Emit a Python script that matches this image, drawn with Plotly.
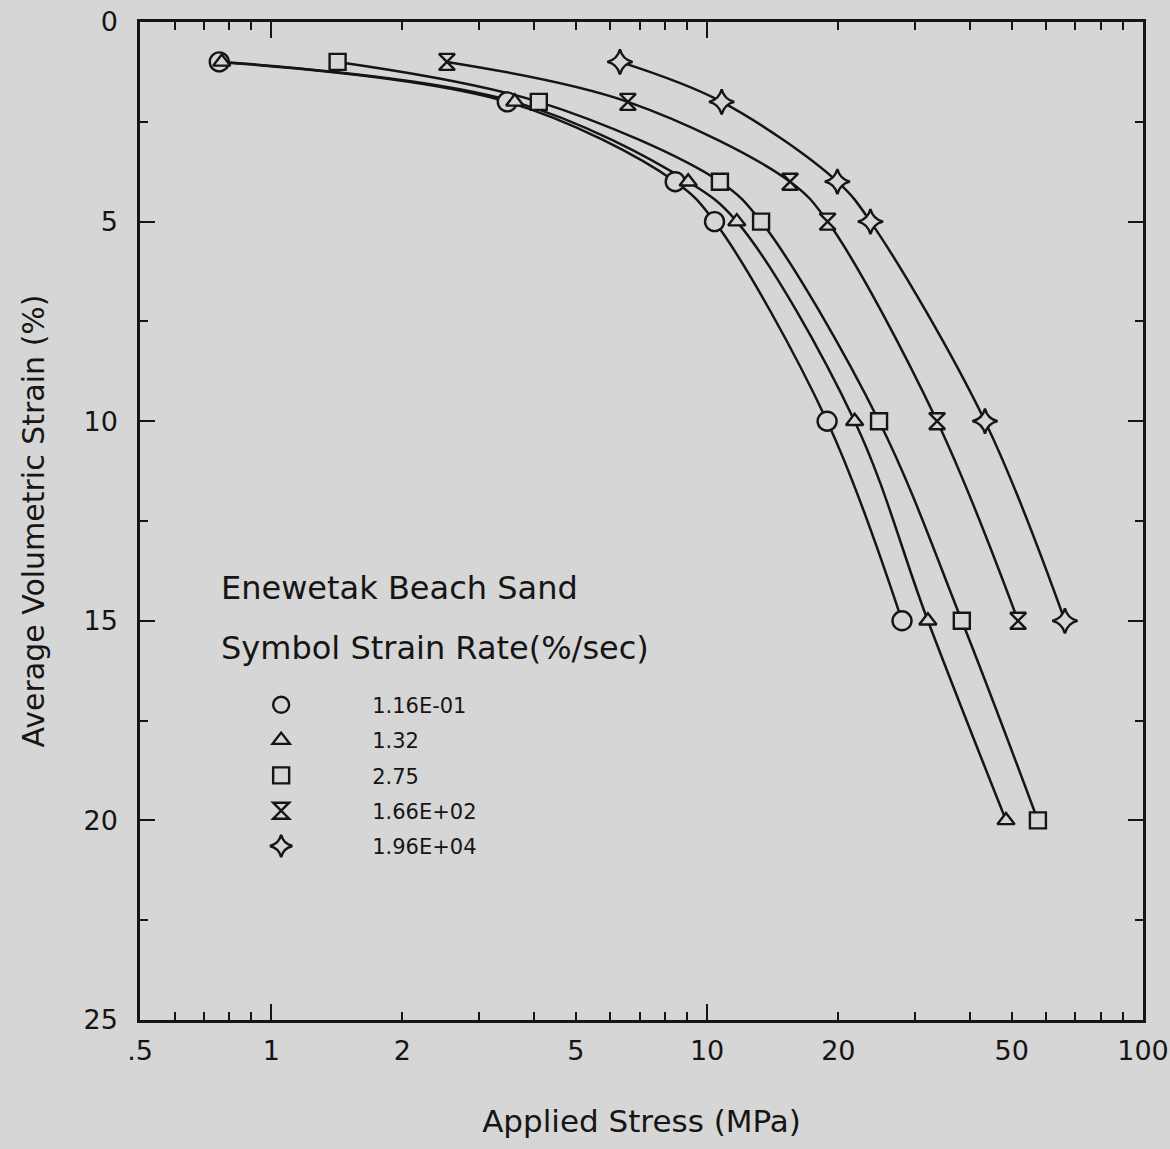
import plotly.graph_objects as go

# ---- data ----
series_names = ["1.16E-01", "1.32", "2.75", "1.66E+02", "1.96E+04"]
stress_circle = [0.76, 3.48, 8.45, 10.4, 18.85, 28.0]
strain_circle = [1, 2, 4, 5, 10, 15]
stress_triangle = [0.77, 3.62, 9.05, 11.7, 21.8, 32.1, 48.5]
strain_triangle = [1, 2, 4, 5, 10, 15, 20]
stress_square = [1.42, 4.11, 10.7, 13.3, 24.8, 38.4, 57.4]
strain_square = [1, 2, 4, 5, 10, 15, 20]
stress_hourglass = [2.53, 6.58, 15.5, 18.9, 33.7, 51.7]
strain_hourglass = [1, 2, 4, 5, 10, 15]
stress_star = [6.31, 10.8, 19.9, 23.7, 43.4, 66.2]
strain_star = [1, 2, 4, 5, 10, 15]

x_tick_vals = [0.5, 0.6, 0.7, 0.8, 0.9, 1, 2, 3, 4, 5, 6, 7, 8, 9, 10,
               20, 30, 40, 50, 60, 70, 80, 90, 100]
x_label_map = {0.5: ".5", 1: "1", 2: "2", 5: "5", 10: "10", 20: "20", 50: "50", 100: "100"}
x_major_vals = [1, 10, 100]
y_tick_vals = [0, 5, 10, 15, 20, 25]

BG = "#d6d6d6"
INK = "#151515"
FONT = "DejaVu Sans"

series = [
    (stress_circle, strain_circle, "circle", 19),
    (stress_triangle, strain_triangle, "triangle-up", 15),
    (stress_square, strain_square, "square", 16),
    (stress_hourglass, strain_hourglass, "hourglass", 16),
    (stress_star, strain_star, "star-diamond", 18),
]

fig = go.Figure()

for xs, ys, sym, sz in series:
    fig.add_trace(go.Scatter(
        x=xs, y=ys, mode="lines", showlegend=False, hoverinfo="skip",
        line=dict(color=INK, width=2.5, shape="spline", smoothing=1.0),
    ))

for (xs, ys, sym, sz), name in zip(series, series_names):
    fig.add_trace(go.Scatter(
        x=xs, y=ys, mode="markers", name=name, legendgroup=name,
        marker=dict(symbol=sym, size=sz, color=BG, line=dict(color=INK, width=2.4)),
    ))

# overlay axis for the long major ticks at decades
fig.add_trace(go.Scatter(x=[1], y=[None], xaxis="x2", showlegend=False, hoverinfo="skip"))

fig.update_layout(
    width=1170, height=1149,
    paper_bgcolor=BG, plot_bgcolor=BG,
    margin=dict(l=140, r=27, t=22, b=129),
    font=dict(family=FONT, color=INK, size=26),
    xaxis=dict(
        type="log", range=[-0.30103, 2.0], automargin=False,
        tickmode="array", tickvals=x_tick_vals,
        ticktext=[x_label_map.get(v, "") for v in x_tick_vals],
        ticks="inside", ticklen=8, tickwidth=2, tickcolor=INK,
        showline=True, linewidth=2.5, linecolor=INK, mirror="ticks",
        showgrid=False, zeroline=False,
        tickfont=dict(size=27), ticklabelstandoff=5,
        title=dict(text="Applied Stress (MPa)", font=dict(size=31), standoff=46),
    ),
    xaxis2=dict(
        type="log", range=[-0.30103, 2.0], overlaying="x", side="bottom", automargin=False,
        tickmode="array", tickvals=x_major_vals, showticklabels=False,
        ticks="inside", ticklen=16, tickwidth=2, tickcolor=INK,
        showline=False, mirror="ticks", showgrid=False, zeroline=False,
    ),
    yaxis=dict(
        range=[25, 0], tickmode="array", tickvals=y_tick_vals, automargin=False,
        ticks="inside", ticklen=15, tickwidth=2, tickcolor=INK,
        minor=dict(dtick=2.5, tick0=0, ticks="inside", ticklen=8, tickwidth=2, tickcolor=INK),
        showline=True, linewidth=2.5, linecolor=INK, mirror="ticks",
        showgrid=False, zeroline=False,
        tickfont=dict(size=27), ticklabelstandoff=14,
        title=dict(text="Average Volumetric Strain (%)", font=dict(size=30), standoff=30),
    ),
    legend=dict(
        x=0.05, y=0.336, xanchor="left", yanchor="top",
        bgcolor="rgba(0,0,0,0)", borderwidth=0,
        font=dict(size=21, family=FONT), itemwidth=172,
        tracegroupgap=5, traceorder="grouped",
    ),
    annotations=[
        dict(text="Enewetak Beach Sand", xref="paper", yref="paper",
             x=0.079, y=0.433, xanchor="left", yanchor="middle", showarrow=False,
             font=dict(size=32, family=FONT)),
        dict(text="Symbol Strain Rate(%/sec)", xref="paper", yref="paper",
             x=0.079, y=0.373, xanchor="left", yanchor="middle", showarrow=False,
             font=dict(size=32, family=FONT)),
    ],
)

fig.write_html("out.html")
